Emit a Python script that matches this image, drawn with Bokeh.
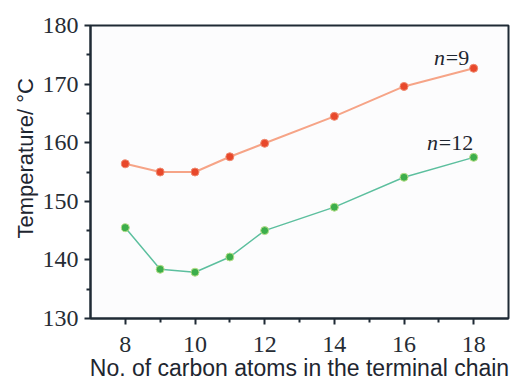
from bokeh.plotting import figure
from bokeh.models import Range1d, FixedTicker, Label, Title
from bokeh.embed import file_html
from bokeh.resources import INLINE

carbons = [8, 9, 10, 11, 12, 14, 16, 18]
temp_n9 = [156.4, 155.0, 155.0, 157.6, 159.9, 164.5, 169.6, 172.7]
temp_n12 = [145.5, 138.4, 137.9, 140.5, 145.0, 149.0, 154.1, 157.5]
x_major_ticks = [8, 10, 12, 14, 16, 18]
x_minor_ticks = [9, 11, 13, 15, 17]
y_major_ticks = [130, 140, 150, 160, 170, 180]
y_minor_ticks = [135, 145, 155, 165, 175]
x_title = "No. of carbon atoms in the terminal chain"
y_title = "Temperature/ °C"

AX = "#1f2a35"
SERIF = "Times New Roman"
SANS = "Arial"
TXT = "#1e2630"

p = figure(width=515, height=385, output_backend="svg", toolbar_location=None,
           x_range=Range1d(7, 19), y_range=Range1d(130, 180))
p.min_border_left = 90
p.min_border_right = 7
p.min_border_top = 25
p.min_border_bottom = 67
p.background_fill_color = "#fcfcfd"
p.border_fill_color = "white"
p.grid.visible = False
p.outline_line_color = AX
p.outline_line_alpha = 1
p.outline_line_width = 2

p.xaxis.ticker = FixedTicker(ticks=x_major_ticks, minor_ticks=x_minor_ticks)
p.yaxis.ticker = FixedTicker(ticks=y_major_ticks, minor_ticks=y_minor_ticks)
for ax in (p.xaxis, p.yaxis):
    ax.axis_line_color = AX
    ax.axis_line_width = 2
    ax.major_tick_line_color = AX
    ax.minor_tick_line_color = AX
    ax.major_tick_line_width = 2
    ax.minor_tick_line_width = 2
    ax.major_tick_in = 0
    ax.major_tick_out = 6
    ax.minor_tick_in = 0
    ax.minor_tick_out = 4
    ax.major_label_text_font = SERIF
    ax.major_label_text_font_size = "24px"
    ax.major_label_text_color = "#262c34"
p.xaxis.major_label_standoff = 12
p.yaxis.major_label_standoff = 6

p.xaxis.axis_label = x_title
p.xaxis.axis_label_text_font = SANS
p.xaxis.axis_label_text_font_style = "normal"
p.xaxis.axis_label_text_font_size = "23px"
p.xaxis.axis_label_text_color = TXT
p.xaxis.axis_label_standoff = 0

p.add_layout(Title(text=y_title, align="left", offset=80, text_font=SANS,
                   text_font_style="normal", text_font_size="22px", text_color=TXT,
                   standoff=4), "left")

p.line(carbons, temp_n9, line_color="#f6a487", line_width=2)
p.scatter(carbons, temp_n9, size=8, fill_color="#e8482b", line_color="#f08a70", line_width=1)
p.line(carbons, temp_n12, line_color="#5cbf9e", line_width=1.5)
p.scatter(carbons, temp_n12, size=8, fill_color="#3cae4b", line_color="#b8df8a", line_width=1)

# series labels
for xn, xr, yl, rest in ((16.86, 17.2, 172.4, "=9"), (16.66, 17.0, 157.9, "=12")):
    p.add_layout(Label(x=xn, y=yl, text="n", text_font=SERIF, text_font_style="italic",
                       text_font_size="22px", text_color=TXT))
    p.add_layout(Label(x=xr, y=yl, text=rest, text_font=SERIF,
                       text_font_size="22px", text_color=TXT))

open("out.html", "w").write(file_html(p, INLINE))
